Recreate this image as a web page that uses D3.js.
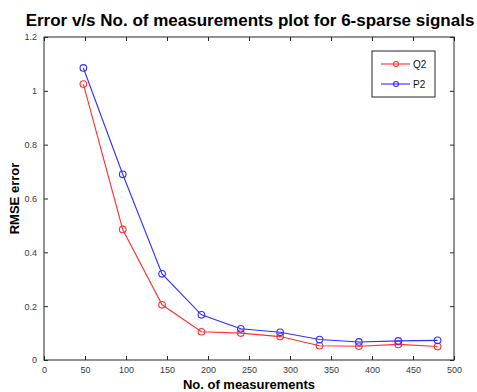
<!DOCTYPE html>
<html>
<head>
<meta charset="utf-8">
<script src="https://cdn.jsdelivr.net/npm/d3@7"></script>
<style>
  body { margin: 0; background: #fff; }
  svg { font-family: "Liberation Sans", Arial, Helvetica, sans-serif; }
</style>
</head>
<body>
<div id="chart"></div>
<script>
// données
const mesures = [48, 96, 144, 192, 240, 288, 336, 384, 432, 480];
const erreurQ2 = [1.025, 0.485, 0.205, 0.105, 0.1, 0.087, 0.053, 0.051, 0.058, 0.05];
const erreurP2 = [1.085, 0.69, 0.32, 0.168, 0.116, 0.103, 0.076, 0.067, 0.071, 0.073];
const ticksX = [0, 50, 100, 150, 200, 250, 300, 350, 400, 450, 500];
const ticksY = [0, 0.2, 0.4, 0.6, 0.8, 1, 1.2];

const series = [
    { nom: "Q2", valeurs: erreurQ2, couleur: "#ff3030" },
    { nom: "P2", valeurs: erreurP2, couleur: "#2f2fff" }
];

const width = 477, height = 392;
const margin = { top: 37, right: 23, bottom: 32, left: 44 };
const innerW = width - margin.left - margin.right,
    innerH = height - margin.top - margin.bottom;

const svg = d3.select("#chart").append("svg")
    .attr("width", width)
    .attr("height", height);

const g = svg.append("g")
    .attr("transform", "translate(" + margin.left + "," + margin.top + ")");

const echelleX = d3.scaleLinear().domain([0, 500]).range([0, innerW]);
const echelleY = d3.scaleLinear().domain([0, 1.2]).range([innerH, 0]);

// axes (ticks vers l'intérieur, style matlab)
const fmtY = d => d === 0 ? "0" : d3.format("~g")(d);
const styleAxe = sel => {
    sel.selectAll(".domain").remove();
    sel.selectAll("line").attr("stroke", "#262626");
    sel.selectAll("text").attr("fill", "#3a3a3a").style("font-size", "9px");
};

g.append("g")
    .attr("transform", "translate(0," + innerH + ")")
    .call(d3.axisBottom(echelleX).tickValues(ticksX).tickSizeInner(-4).tickSizeOuter(0).tickPadding(7))
    .call(styleAxe);
g.append("g")
    .call(d3.axisTop(echelleX).tickValues(ticksX).tickSizeInner(-4).tickSizeOuter(0).tickFormat(""))
    .call(styleAxe);
g.append("g")
    .call(d3.axisLeft(echelleY).tickValues(ticksY).tickSizeInner(-4).tickSizeOuter(0).tickPadding(7).tickFormat(fmtY))
    .call(styleAxe);
g.append("g")
    .attr("transform", "translate(" + innerW + ",0)")
    .call(d3.axisRight(echelleY).tickValues(ticksY).tickSizeInner(-4).tickSizeOuter(0).tickFormat(""))
    .call(styleAxe);

g.append("rect")
    .attr("width", innerW)
    .attr("height", innerH)
    .attr("fill", "none")
    .attr("stroke", "#262626")
    .attr("stroke-width", 1);

// courbes
const ligne = d3.line()
    .x((d, i) => echelleX(mesures[i]))
    .y(d => echelleY(d));

series.forEach(s => {
    g.append("path")
        .datum(s.valeurs)
        .attr("fill", "none")
        .attr("stroke", s.couleur)
        .attr("stroke-width", 1.1)
        .attr("d", ligne);
    g.selectAll(null)
        .data(s.valeurs)
        .join("circle")
        .attr("cx", (d, i) => echelleX(mesures[i]))
        .attr("cy", d => echelleY(d))
        .attr("r", 3.3)
        .attr("fill", "none")
        .attr("stroke", s.couleur)
        .attr("stroke-width", 1.1);
});

// légende
const legende = svg.append("g").attr("transform", "translate(372,51)");
legende.append("rect")
    .attr("width", 63).attr("height", 46)
    .attr("fill", "#fff").attr("stroke", "#262626");
series.forEach((s, i) => {
    const y = 13 + i * 20;
    legende.append("line")
        .attr("x1", 9).attr("x2", 38).attr("y1", y).attr("y2", y)
        .attr("stroke", s.couleur).attr("stroke-width", 1.1);
    legende.append("circle")
        .attr("cx", 24).attr("cy", y).attr("r", 2.5)
        .attr("fill", "none").attr("stroke", s.couleur).attr("stroke-width", 1.1);
    legende.append("text")
        .attr("x", 41).attr("y", y + 3.5)
        .style("font-size", "10px").attr("fill", "#111")
        .text(s.nom);
});

// titres
svg.append("text")
    .attr("x", 250)
    .attr("y", 26)
    .attr("text-anchor", "middle")
    .style("font-size", "17px").style("font-weight", "bold")
    .text("Error v/s No. of measurements plot for 6-sparse signals");

svg.append("text")
    .attr("x", margin.left + innerW / 2)
    .attr("y", 389)
    .attr("text-anchor", "middle")
    .style("font-size", "13px").style("font-weight", "bold")
    .text("No. of measurements");

svg.append("text")
    .attr("transform", "translate(19," + (margin.top + innerH / 2) + ") rotate(-90)")
    .attr("text-anchor", "middle")
    .style("font-size", "13px").style("font-weight", "bold")
    .text("RMSE error");
</script>
</body>
</html>
